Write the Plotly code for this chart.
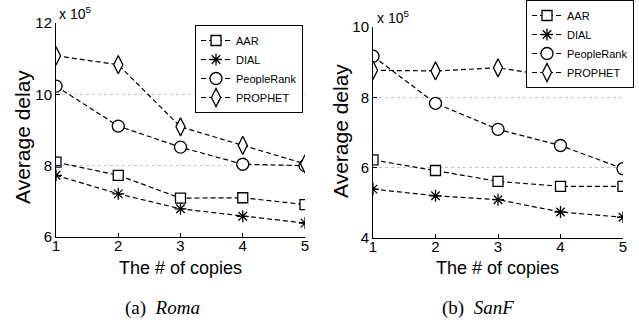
import plotly.graph_objects as go

W, H = 639, 325

copies = [1, 2, 3, 4, 5]
series_names = ["AAR", "DIAL", "PeopleRank", "PROPHET"]

roma_aar = [8.10, 7.73, 7.09, 7.10, 6.91]
roma_dial = [7.73, 7.21, 6.79, 6.58, 6.39]
roma_peoplerank = [10.23, 9.11, 8.52, 8.04, 8.00]
roma_prophet = [11.08, 10.83, 9.09, 8.57, 8.05]

sanf_aar = [6.22, 5.92, 5.61, 5.47, 5.47]
sanf_dial = [5.39, 5.20, 5.09, 4.74, 4.59]
sanf_peoplerank = [9.17, 7.83, 7.09, 6.63, 5.97]
sanf_prophet = [8.77, 8.75, 8.84, 8.57, 8.68]

roma_ticks = [6, 8, 10, 12]
sanf_ticks = [4, 6, 8, 10]

styles = {
    "AAR": dict(symbol="square", size=10, color="white"),
    "DIAL": dict(symbol="asterisk-open", size=10, color="black"),
    "PeopleRank": dict(symbol="circle", size=12, color="white"),
    "PROPHET": dict(symbol="diamond-tall", size=13, color="white"),
}

fig = go.Figure()

def add_series(name, ys, xa, ya, legend):
    st = styles[name]
    fig.add_trace(go.Scatter(
        x=copies, y=ys, name=name, mode="lines+markers",
        xaxis=xa, yaxis=ya, legend=legend,
        line=dict(color="black", width=1.2, dash="5px,3px"),
        marker=dict(symbol=st["symbol"], size=st["size"], color=st["color"],
                    line=dict(color="black", width=1.3)),
    ))

for name, ys in zip(series_names, [roma_aar, roma_dial, roma_peoplerank, roma_prophet]):
    add_series(name, ys, "x", "y", "legend")
for name, ys in zip(series_names, [sanf_aar, sanf_dial, sanf_peoplerank, sanf_prophet]):
    add_series(name, ys, "x2", "y2", "legend2")

def px(x):
    return x / W

def py(y):
    return 1 - y / H

axis_common = dict(showline=True, linecolor="black", linewidth=1, mirror=False,
                   ticks="inside", ticklen=4, tickcolor="black", zeroline=False,
                   automargin=False,
                   tickfont=dict(family="Liberation Sans, Arial", size=15, color="black"))

legend_common = dict(xanchor="right", yanchor="top",
                     bgcolor="white", bordercolor="black", borderwidth=1,
                     font=dict(family="Liberation Sans, Arial", size=11, color="black"),
                     itemwidth=30, tracegroupgap=0)

fig.update_layout(
    width=W, height=H, margin=dict(l=0, r=0, t=0, b=0, autoexpand=False),
    paper_bgcolor="white", plot_bgcolor="white",
    showlegend=True,
    xaxis=dict(domain=[px(56), px(305)], range=[1, 5], tickvals=copies, anchor="y",
               showgrid=False, ticklabelstandoff=-5, **axis_common),
    yaxis=dict(domain=[py(237), py(23)], range=[6, 12], tickvals=roma_ticks, anchor="x",
               showgrid=True, gridcolor="#c8c8c8", griddash="dot", gridwidth=1,
               ticklabelstandoff=0, **axis_common),
    xaxis2=dict(domain=[px(373), px(623)], range=[1, 5], tickvals=copies, anchor="y2",
                showgrid=False, ticklabelstandoff=-5, **axis_common),
    yaxis2=dict(domain=[py(238), py(27)], range=[4, 10], tickvals=sanf_ticks, anchor="x2",
                showgrid=True, gridcolor="#c8c8c8", griddash="dot", gridwidth=1,
                ticklabelstandoff=0, **axis_common),
    legend=dict(x=px(303), y=py(25), **legend_common),
    legend2=dict(x=px(634), y=py(0), **legend_common),
)

sans = dict(family="Liberation Sans, Arial", color="black")
serif = dict(family="Liberation Serif, Times New Roman", color="black", size=19)

annots = [
    dict(x=px(57), y=py(13), text="x 10<sup>5</sup>", xanchor="left", yanchor="middle", font=dict(size=14, **sans)),
    dict(x=px(375), y=py(17), text="x 10<sup>5</sup>", xanchor="left", yanchor="middle", font=dict(size=14, **sans)),
    dict(x=px(22), y=py(137), text="Average delay", textangle=-90, xanchor="center", yanchor="middle", font=dict(size=21, **sans)),
    dict(x=px(340), y=py(131), text="Average delay", textangle=-90, xanchor="center", yanchor="middle", font=dict(size=21, **sans)),
    dict(x=px(180), y=py(268), text="The # of copies", xanchor="center", yanchor="middle", font=dict(size=18, **sans)),
    dict(x=px(497), y=py(268), text="The # of copies", xanchor="center", yanchor="middle", font=dict(size=18, **sans)),
    dict(x=px(162), y=py(308), text="(a)  <i>Roma</i>", xanchor="center", yanchor="middle", font=serif),
    dict(x=px(478), y=py(308), text="(b)  <i>SanF</i>", xanchor="center", yanchor="middle", font=serif),
]
for a in annots:
    a.update(xref="paper", yref="paper", showarrow=False)
fig.update_layout(annotations=annots)

fig.write_html("out.html", config={"displayModeBar": False},
               post_script="document.body.style.margin='0px';")
